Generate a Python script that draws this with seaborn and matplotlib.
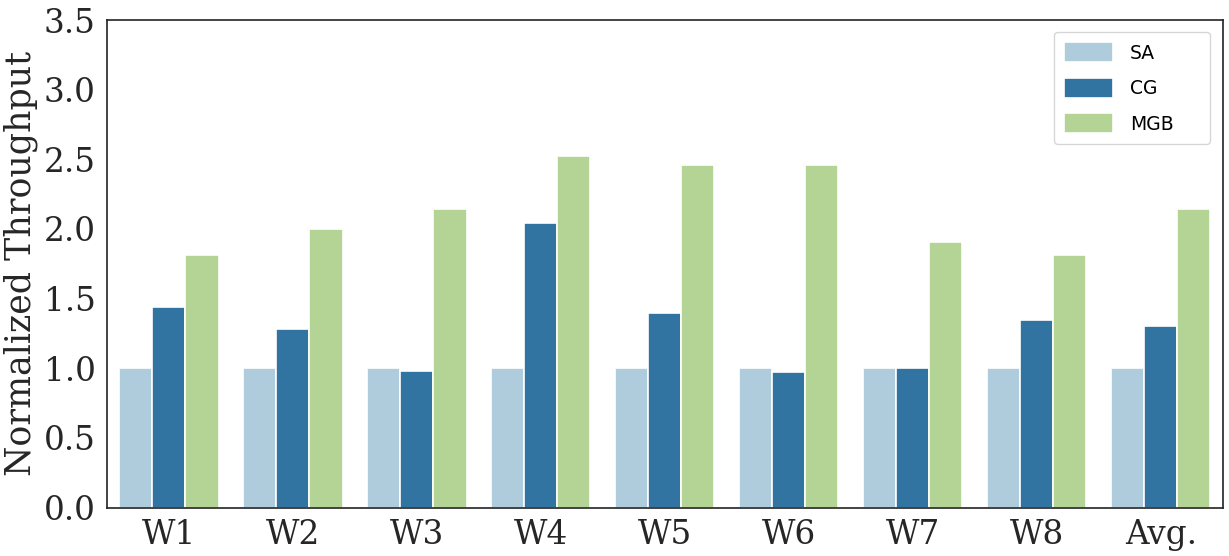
import pandas as pd
import matplotlib
matplotlib.use('Agg')
import matplotlib.pyplot as plt
import seaborn as sns

# workloads and normalized throughput per scheme (SA is the baseline)
workloads = ['W1', 'W2', 'W3', 'W4', 'W5', 'W6', 'W7', 'W8', 'Avg.']
schemes = ['SA', 'CG', 'MGB']
sa_vals = [1.0, 1.0, 1.0, 1.0, 1.0, 1.0, 1.0, 1.0, 1.0]
cg_vals = [1.44, 1.285, 0.98, 2.04, 1.40, 0.97, 1.0, 1.35, 1.305]
mgb_vals = [1.81, 2.0, 2.145, 2.525, 2.46, 2.46, 1.91, 1.815, 2.14]

# build long-form table for seaborn
rows = []
for vals, name in zip([sa_vals, cg_vals, mgb_vals], schemes):
    for w, v in zip(workloads, vals):
        rows.append({'workload': w, 'scheme': name, 'throughput': v})
df = pd.DataFrame(rows)

sns.set_theme(style='white')

fig, ax = plt.subplots(figsize=(12.29, 5.56), dpi=100)
sns.barplot(data=df, x='workload', y='throughput', hue='scheme',
            palette='Paired', order=workloads, hue_order=schemes, ax=ax,
            edgecolor='white', linewidth=1.2)

ax.set_ylim(0, 3.5)
ax.set_yticks([0, 0.5, 1.0, 1.5, 2.0, 2.5, 3.0, 3.5])
ax.set_xlabel('')
ax.set_ylabel('Normalized Throughput', fontsize=25, family='DejaVu Serif')
for lbl in ax.get_xticklabels() + ax.get_yticklabels():
    lbl.set_family('DejaVu Serif')
    lbl.set_fontsize(23.5)
ax.tick_params(axis='both', pad=2)

for s in ax.spines.values():
    s.set_color('#222222')
    s.set_linewidth(1.2)

# legend box stretched to the reference width
leg = ax.legend(loc='upper left', fontsize=13.5, handlelength=2.6,
                handleheight=1.3, labelspacing=0.8, borderpad=0.55,
                handletextpad=0.9, borderaxespad=0, mode='expand',
                bbox_to_anchor=(0.8486, 0.5, 0.1398, 0.476))
leg.get_frame().set_edgecolor('#cccccc')
for t in leg.get_texts():
    t.set_color('black')

plt.subplots_adjust(left=0.087, right=0.995, top=0.964, bottom=0.087)
plt.savefig('out.png', dpi=100)
plt.close()
